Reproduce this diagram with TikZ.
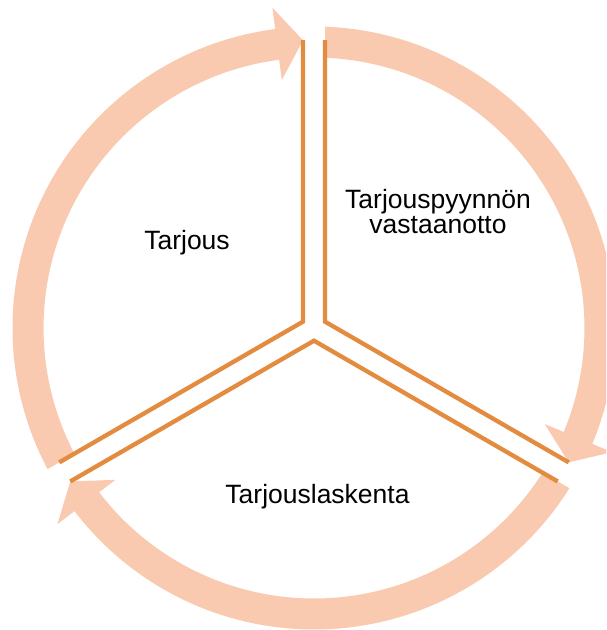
\documentclass[tikz,border=0pt]{standalone}
\usepackage{fontspec}
\setmainfont{Liberation Sans}
\definecolor{ringc}{HTML}{F9C9B0}
\definecolor{wallc}{HTML}{E38B3F}
\begin{document}
\begin{tikzpicture}[x=1pt,y=1pt,
  ringarrow/.style={fill=ringc,draw=none},
  wall/.style={draw=wallc,line width=4.3pt,line join=miter},
  lbl/.style={inner sep=0pt,font=\fontsize{26.5}{25}\selectfont,align=center,text=black}]
\useasboundingbox (0,0) rectangle (606,-630);
\clip (0,0) rectangle (606,-630);
\begin{scope}[shift={(314,-328)}]
  \foreach \A in {210,90,-30}{
    \pgfmathsetmacro{\B}{\A-120}
    \pgfmathsetmacro{\To}{\A-2.095}
    \pgfmathsetmacro{\Ti}{\A-2.326}
    \pgfmathsetmacro{\Ba}{\B+7.4}
    \pgfmathsetmacro{\Tp}{\B+2.19}
    \fill[ringarrow] (\To:301.5) arc[start angle=\To, end angle=\Ba, radius=301.5pt]
      -- (\Ba:323) -- (\Tp:288) -- (\Ba:250) -- (\Ba:270.5)
      arc[start angle=\Ba, end angle=\Ti, radius=270.5pt] -- cycle;
  }
  \coordinate (c150) at (150:12.7);
  \coordinate (c30) at (30:12.7);
  \coordinate (c270) at (270:12.7);
  \coordinate (e1a) at (92.19:288);
  \coordinate (e1b) at (207.81:288);
  \coordinate (e2a) at (87.81:288);
  \coordinate (e2b) at (332.19:288);
  \coordinate (e3a) at (212.19:288);
  \coordinate (e3b) at (327.81:288);
  \draw[wall] (e1a) -- (c150) -- (e1b);
  \draw[wall] (e2a) -- (c30) -- (e2b);
  \draw[wall] (e3a) -- (c270) -- (e3b);
\end{scope}
\node[lbl,anchor=base] (t1) at (187,-249) {Tarjous};
\node[lbl,anchor=base] (t2) at (438,-233) {Tarjouspyynnön\\vastaanotto};
\node[lbl,anchor=base] (t3) at (317.5,-503) {Tarjouslaskenta};
\end{tikzpicture}
\end{document}
